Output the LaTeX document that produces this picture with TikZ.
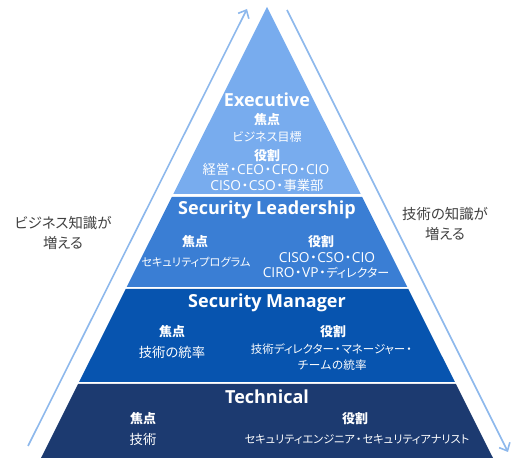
\documentclass[tikz,border=0pt]{standalone}
\usepackage{fontspec}
\setmainfont{Open Sans}
\newfontfamily\jp[RawFeature=+palt]{Noto Sans CJK JP}
\newfontfamily\jpfull{Noto Sans CJK JP}
\newcommand{\lt}[1]{{\rmfamily\mdseries\fontsize{10.3}{11}\selectfont #1}}
\newcommand{\dt}{\makebox[5.8pt]{\jpfull ・}}
\usetikzlibrary{arrows.meta}
\definecolor{cexec}{HTML}{78ACEE}
\definecolor{clead}{HTML}{3A7ED4}
\definecolor{cman}{HTML}{0754AF}
\definecolor{ctech}{HTML}{1C3A70}
\definecolor{carrow}{HTML}{8DB8EC}
\definecolor{cside}{HTML}{404040}
\tikzset{
  ttl/.style={text=white,font=\fontsize{13.5}{15}\selectfont\bfseries,inner sep=0pt},
  lbl/.style={text=white,font=\jp\fontsize{9.7}{11}\selectfont\bfseries,inner sep=0pt},
  txt/.style={text=white,font=\jp\fontsize{10}{11}\selectfont,inner sep=0pt},
  txts/.style={text=white,font=\jp\fontsize{8.4}{10}\selectfont,inner sep=0pt},
  side/.style={text=cside,font=\jp\fontsize{10.8}{15}\selectfont,align=center,inner sep=0pt},
  arr/.style={draw=carrow,line width=1.2pt,-{Straight Barb[length=5pt,width=9pt]}}
}
\begin{document}
\begin{tikzpicture}[x=0.75pt,y=-0.75pt]
\useasboundingbox (0,0) rectangle (519,463);
% bands
\fill[cexec] (267,7) -- (360.7,194) -- (173.3,194) -- cycle;
\fill[clead] (171.8,197) -- (362.2,197) -- (407.3,287) -- (126.7,287) -- cycle;
\fill[cman] (125.7,289) -- (408.3,289) -- (454.9,382) -- (79.1,382) -- cycle;
\fill[ctech] (78.1,384) -- (455.9,384) -- (493,458) -- (41,458) -- cycle;
% arrows
\coordinate (la) at (28,446);
\coordinate (lb) at (247,9);
\coordinate (ra) at (287,10);
\coordinate (rb) at (508,452);
\draw[arr] (la) -- (lb);
\draw[arr] (ra) -- (rb);
% executive
\node[ttl] (t1) at (267,100) {Executive};
\node[lbl] (e1) at (267,120) {焦点};
\node[txt,font=\jp\fontsize{9}{11}\selectfont] (e2) at (267,137) {ビジネス目標};
\node[lbl] (e3) at (267,156) {役割};
\node[txt] (e4) at (266,169) {経営\dt\lt{CEO}\dt\lt{CFO}\dt\lt{CIO}};
\node[txt] (e5) at (267,185) {\lt{CISO}\dt\lt{CSO}\dt 事業部};
% leadership
\node[ttl] (t2) at (267,210) {Security Leadership};
\node[lbl] (l1) at (195,242) {焦点};
\node[txts] (l2) at (196,262) {セキュリティプログラム};
\node[lbl] (l3) at (321,242) {役割};
\node[txt] (l4) at (327,258) {\lt{CISO}\dt\lt{CSO}\dt\lt{CIO}};
\node[txt] (l5) at (326,273) {\lt{CIRO}\dt\lt{VP}\dt{\fontsize{9}{11}\selectfont ディレクター}};
% manager
\node[ttl] (t3) at (267,303) {Security Manager};
\node[lbl] (m1) at (172,332) {焦点};
\node[txt] (m2) at (172,352) {技術の統率};
\node[lbl] (m3) at (333,332) {役割};
\node[txt,font=\jp\fontsize{8.6}{10}\selectfont] (m4) at (332,349) {技術ディレクター\dt マネージャー\dt};
\node[txt,font=\jpfull\fontsize{8.7}{10}\selectfont] (m5) at (332,365) {チームの統率};
% technical
\node[ttl] (t4) at (267,397) {Technical};
\node[lbl] (c1) at (143,419) {焦点};
\node[txt] (c2) at (143,439) {技術};
\node[lbl] (c3) at (355,419) {役割};
\node[txts] (c4) at (357,439) {セキュリティエンジニア\dt セキュリティアナリスト};
% side labels
\node[side] (sl) at (63,233) {ビジネス知識が\\増える};
\node[side] (sr) at (445,224) {技術の知識が\\増える};
\end{tikzpicture}
\end{document}
